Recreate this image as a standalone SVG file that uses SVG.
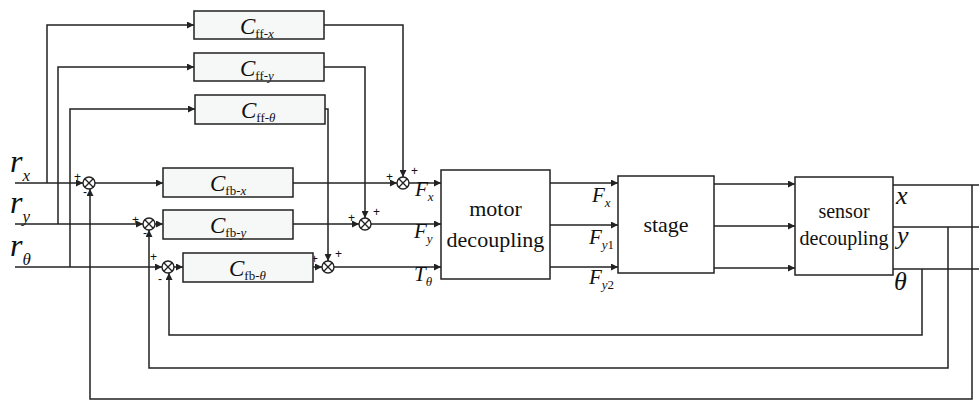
<svg xmlns="http://www.w3.org/2000/svg" width="979" height="401" viewBox="0 0 979 401">
<defs>
<marker id="ar" viewBox="0 0 8 8" refX="8" refY="4" markerWidth="7" markerHeight="7" markerUnits="userSpaceOnUse" orient="auto">
<path d="M0,0 L8,4 L0,8 z" fill="#222"/>
</marker>
<g id="sum"><circle r="6" fill="#fff" stroke="#222" stroke-width="1.4"/><path d="M-4.2,-4.2 L4.2,4.2 M-4.2,4.2 L4.2,-4.2" stroke="#222" stroke-width="1.3"/></g>
</defs>
<style>
.ln{fill:none;stroke:#222;stroke-width:1.5}
.bx{fill:#fff;stroke:#222;stroke-width:1.5}
.cb{fill:#f6f7f7;stroke:#222;stroke-width:1.5}
.it{font-style:italic;fill:#111}
.rm{fill:#111}
.sg{font-size:12px;fill:#111}
</style>
<rect width="979" height="401" fill="#fff"/>
<g id="connectors">
<path class="ln" d="M15,183 H83" marker-end="url(#ar)"/>
<path class="ln" d="M15,224 H143" marker-end="url(#ar)"/>
<path class="ln" d="M15,267 H162" marker-end="url(#ar)"/>
<path class="ln" d="M47,183 V25 H194" marker-end="url(#ar)"/>
<path class="ln" d="M58,224 V67 H194" marker-end="url(#ar)"/>
<path class="ln" d="M70,267 V109 H195" marker-end="url(#ar)"/>
<path class="ln" d="M324,25 H403 V177" marker-end="url(#ar)"/>
<path class="ln" d="M324,67 H365 V218" marker-end="url(#ar)"/>
<path class="ln" d="M325,109 H328 V261" marker-end="url(#ar)"/>
<path class="ln" d="M95,183 H163" marker-end="url(#ar)"/>
<path class="ln" d="M155,224 H163" marker-end="url(#ar)"/>
<path class="ln" d="M174,267 H183" marker-end="url(#ar)"/>
<path class="ln" d="M293,183 H397" marker-end="url(#ar)"/>
<path class="ln" d="M293,224 H359" marker-end="url(#ar)"/>
<path class="ln" d="M313,267 H322" marker-end="url(#ar)"/>
<path class="ln" d="M409,183 H441" marker-end="url(#ar)"/>
<path class="ln" d="M371,224 H441" marker-end="url(#ar)"/>
<path class="ln" d="M334,267 H441" marker-end="url(#ar)"/>
<path class="ln" d="M550,183 H618" marker-end="url(#ar)"/>
<path class="ln" d="M550,225 H618" marker-end="url(#ar)"/>
<path class="ln" d="M550,267 H618" marker-end="url(#ar)"/>
<path class="ln" d="M714,184 H795" marker-end="url(#ar)"/>
<path class="ln" d="M714,226 H795" marker-end="url(#ar)"/>
<path class="ln" d="M714,268 H795" marker-end="url(#ar)"/>
<path class="ln" d="M893,185 H979"/>
<path class="ln" d="M893,227 H979"/>
<path class="ln" d="M893,269 H979"/>
<path class="ln" d="M922,269 V335 H169 V273" marker-end="url(#ar)"/>
<path class="ln" d="M948,227 V368 H149 V230" marker-end="url(#ar)"/>
<path class="ln" d="M972,185 V399 H90 V189" marker-end="url(#ar)"/>
</g>
<g id="sum1" font-family="Liberation Sans, Arial, sans-serif"><use href="#sum" x="89" y="183"/><text class="sg" x="74" y="181">+</text><text class="sg" x="83" y="196">-</text></g>
<g id="sum2" font-family="Liberation Sans, Arial, sans-serif"><use href="#sum" x="149" y="224"/><text class="sg" x="132" y="224">+</text><text class="sg" x="143" y="237">-</text></g>
<g id="sum3" font-family="Liberation Sans, Arial, sans-serif"><use href="#sum" x="168" y="267"/><text class="sg" x="150" y="261">+</text><text class="sg" x="158" y="283">-</text></g>
<g id="sum4" font-family="Liberation Sans, Arial, sans-serif"><use href="#sum" x="403" y="183"/><text class="sg" x="386" y="181">+</text><text class="sg" x="411" y="175">+</text></g>
<g id="sum5" font-family="Liberation Sans, Arial, sans-serif"><use href="#sum" x="365" y="224"/><text class="sg" x="348" y="222">+</text><text class="sg" x="373" y="216">+</text></g>
<g id="sum6" font-family="Liberation Sans, Arial, sans-serif"><use href="#sum" x="328" y="267"/><text class="sg" x="311" y="263">+</text><text class="sg" x="335" y="258">+</text></g>
<g id="cffx" font-family="Liberation Serif, Times New Roman, serif"><rect class="cb" x="194" y="11" width="130" height="28"/><text class="it" x="240" y="34" font-size="23">C<tspan font-style="normal" font-size="13" dy="4">ff-</tspan><tspan font-size="13">x</tspan></text></g>
<g id="cffy" font-family="Liberation Serif, Times New Roman, serif"><rect class="cb" x="194" y="53" width="130" height="28"/><text class="it" x="240" y="76" font-size="23">C<tspan font-style="normal" font-size="13" dy="4">ff-</tspan><tspan font-size="13">y</tspan></text></g>
<g id="cfft" font-family="Liberation Serif, Times New Roman, serif"><rect class="cb" x="195" y="95" width="130" height="29"/><text class="it" x="241" y="118" font-size="23">C<tspan font-style="normal" font-size="13" dy="4">ff-</tspan><tspan font-size="13">θ</tspan></text></g>
<g id="cfbx" font-family="Liberation Serif, Times New Roman, serif"><rect class="cb" x="163" y="168" width="130" height="29"/><text class="it" x="210" y="191" font-size="23">C<tspan font-style="normal" font-size="13" dy="4">fb-</tspan><tspan font-size="13">x</tspan></text></g>
<g id="cfby" font-family="Liberation Serif, Times New Roman, serif"><rect class="cb" x="163" y="210" width="130" height="29"/><text class="it" x="210" y="233" font-size="23">C<tspan font-style="normal" font-size="13" dy="4">fb-</tspan><tspan font-size="13">y</tspan></text></g>
<g id="cfbt" font-family="Liberation Serif, Times New Roman, serif"><rect class="cb" x="183" y="253" width="130" height="29"/><text class="it" x="229" y="276" font-size="23">C<tspan font-style="normal" font-size="13" dy="4">fb-</tspan><tspan font-size="13">θ</tspan></text></g>
<g id="motor" font-family="Liberation Serif, Times New Roman, serif"><rect class="bx" x="441" y="170" width="109" height="109"/><text class="rm" x="495.5" y="216" font-size="22" text-anchor="middle">motor</text><text class="rm" x="495.5" y="247" font-size="22" text-anchor="middle">decoupling</text></g>
<g id="stage" font-family="Liberation Serif, Times New Roman, serif"><rect class="bx" x="618" y="176" width="96" height="97"/><text class="rm" x="666" y="232" font-size="22" text-anchor="middle">stage</text></g>
<g id="sensor" font-family="Liberation Serif, Times New Roman, serif"><rect class="bx" x="795" y="177" width="98" height="98"/><text class="rm" x="844" y="218" font-size="20" text-anchor="middle">sensor</text><text class="rm" x="844" y="245" font-size="20" text-anchor="middle">decoupling</text></g>
<g id="labels" font-family="Liberation Serif, Times New Roman, serif">
<text class="it" x="10" y="172" font-size="32">r<tspan font-size="17" dy="9">x</tspan></text>
<text class="it" x="10" y="213" font-size="32">r<tspan font-size="17" dy="9">y</tspan></text>
<text class="it" x="10" y="256" font-size="32">r<tspan font-size="17" dy="9">θ</tspan></text>
<text class="it" x="415" y="196" font-size="21">F<tspan font-size="13" dy="5">x</tspan></text>
<text class="it" x="414" y="238" font-size="21">F<tspan font-size="13" dy="5">y</tspan></text>
<text class="it" x="414" y="281" font-size="21">T<tspan font-size="13" dy="5">θ</tspan></text>
<text class="it" x="592" y="202" font-size="21">F<tspan font-size="13" dy="5">x</tspan></text>
<text class="it" x="589" y="244" font-size="21">F<tspan font-size="13" dy="5">y</tspan><tspan font-style="normal" font-size="13">1</tspan></text>
<text class="it" x="589" y="284" font-size="21">F<tspan font-size="13" dy="5">y</tspan><tspan font-style="normal" font-size="13">2</tspan></text>
<text class="it" x="896" y="204" font-size="26">x</text>
<text class="it" x="897" y="244" font-size="26">y</text>
<text class="it" x="894" y="290" font-size="26">θ</text>
</g>
</svg>
